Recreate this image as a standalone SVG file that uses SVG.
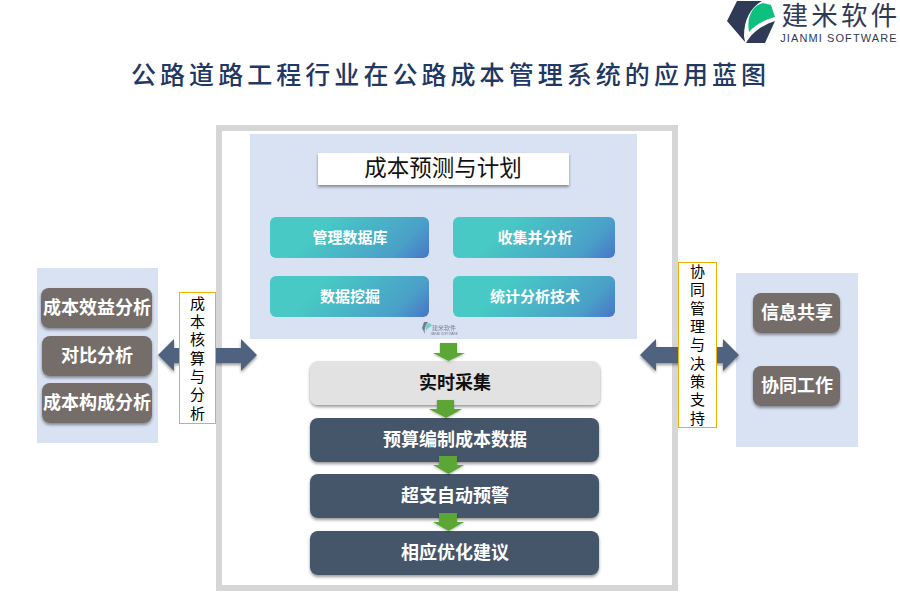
<svg xmlns="http://www.w3.org/2000/svg" width="900" height="600" viewBox="0 0 900 600">
<style>
text{font-family:"Noto Sans CJK SC","Noto Sans",sans-serif;text-anchor:middle}
.panel{fill:#d9e2f3}
.teal{fill:url(#tg)}
.tt{font-size:15px;font-weight:700;fill:#fff}
.grey{fill:#746d6b;filter:url(#sh)}
.gt{font-size:18px;font-weight:700;fill:#fff}
.dark{fill:#44546a;filter:url(#sh)}
.dt{font-size:18px;font-weight:700;fill:#fff}
.side{fill:#fff;stroke:#f0b400;stroke-width:1}
.st{font-size:15px;fill:#000;writing-mode:vertical-rl;letter-spacing:3.350px}
.green{fill:#5ca636;filter:url(#sh2)}
.blue{fill:#50627f;filter:url(#sh)}
</style>
<defs>
<linearGradient id="tg" x1="0" y1="0" x2="1.18" y2="0.3"><stop offset="0.3" stop-color="#48c9c5"/><stop offset="0.8" stop-color="#4aa0c8"/><stop offset="1" stop-color="#4874c9"/></linearGradient>
<filter id="sh" x="-20%" y="-20%" width="140%" height="150%"><feDropShadow dx="0" dy="2" stdDeviation="1.500" flood-color="#000" flood-opacity="0.4"/></filter>
<filter id="sh2" x="-20%" y="-20%" width="140%" height="150%"><feDropShadow dx="0" dy="1" stdDeviation="1" flood-color="#000" flood-opacity="0.3"/></filter>
</defs>
<rect width="900" height="600" fill="#fff"/>
<g id="logo">
<path d="M737 1H762C750 8 744 20 744 36L745 42L727 21Z" fill="#2f3a57"/>
<path d="M749 32C746 15 754 5 763 3L771 5L775 17C764 20 755 25 749 32Z" fill="#0ec07f"/>
<path d="M775 21L765 43H746C752 32 763 25 775 21Z" fill="#2f3a57"/>
<text x="841" y="25" style="font-size:26.500px;fill:#2f3a57;letter-spacing:3.300px">建米软件</text>
<text x="839" y="42" style="font-size:11px;fill:#2f3a57;letter-spacing:1.100px;font-family:'Liberation Sans',sans-serif">JIANMI SOFTWARE</text>
</g>
<text id="title" x="131" y="84" style="text-anchor:start;font-size:25px;font-weight:500;fill:#1f3864;letter-spacing:4.050px">公路道路工程行业在公路成本管理系统的应用蓝图</text>
<rect id="frame" x="219" y="128" width="456" height="460" fill="#fff" stroke="#d6d6d6" stroke-width="6"/>
<g id="plan"><rect class="panel" x="250" y="134" width="387" height="205"/></g>
<g id="n-plan-title"><rect x="318" y="153" width="251" height="32" fill="#fff" filter="url(#sh)"/><text x="443" y="176" style="font-size:22.500px;fill:#111">成本预测与计划</text></g>
<g id="n1"><rect class="teal" x="270" y="217" width="159" height="41" rx="6"/><text class="tt" x="350" y="243">管理数据库</text></g>
<g id="n2"><rect class="teal" x="453" y="217" width="162" height="41" rx="6"/><text class="tt" x="535" y="243">收集并分析</text></g>
<g id="n3"><rect class="teal" x="270" y="276" width="159" height="41" rx="6"/><text class="tt" x="350" y="302">数据挖掘</text></g>
<g id="n4"><rect class="teal" x="453" y="276" width="162" height="41" rx="6"/><text class="tt" x="535" y="302">统计分析技术</text></g>
<g id="mini-logo" opacity="0.6">
<path d="M424 322H428C425 326 424 330 425 334L422 328Z" fill="#2f3a57"/>
<path d="M426 331C425 326 427 323 430 323L432 326C429 327 427 329 426 331Z" fill="#3cc0a0"/>
<text x="444" y="330" style="font-size:6px;fill:#2f3a57">建米软件</text>
<text x="444" y="334.500" style="font-size:3px;fill:#2f3a57;font-family:'Liberation Sans',sans-serif">JIANMI SOFTWARE</text>
</g>
<g id="left"><rect class="panel" x="37" y="268" width="121" height="175"/></g>
<g id="l1"><rect class="grey" x="41" y="288" width="111" height="40" rx="8"/><text class="gt" x="97" y="314">成本效益分析</text></g>
<g id="l2"><rect class="grey" x="42" y="336" width="110" height="40" rx="8"/><text class="gt" x="97" y="362">对比分析</text></g>
<g id="l3"><rect class="grey" x="42" y="383" width="110" height="40" rx="8"/><text class="gt" x="97" y="409">成本构成分析</text></g>
<g id="right"><rect class="panel" x="736" y="273" width="122" height="174"/></g>
<g id="r1"><rect class="grey" x="753" y="293" width="87" height="40" rx="8"/><text class="gt" x="797" y="319">信息共享</text></g>
<g id="r2"><rect class="grey" x="753" y="366" width="87" height="40" rx="8"/><text class="gt" x="797" y="392">协同工作</text></g>
<g id="s1"><rect x="310" y="361" width="290" height="44" rx="8" fill="#e2e2e2" filter="url(#sh)"/><text x="455" y="389" style="font-size:18px;font-weight:700;fill:#111">实时采集</text></g>
<g id="s2"><rect class="dark" x="310" y="418" width="289" height="44" rx="8"/><text class="dt" x="455" y="446">预算编制成本数据</text></g>
<g id="s3"><rect class="dark" x="310" y="474" width="289" height="44" rx="8"/><text class="dt" x="455" y="502">超支自动预警</text></g>
<g id="s4"><rect class="dark" x="310" y="531" width="289" height="44" rx="8"/><text class="dt" x="455" y="559">相应优化建议</text></g>
<g id="connectors">
<path class="blue" d="M158 355L174 339V348H241V339L257 355L241 371V363H174V371Z"/>
<path class="blue" d="M640 355L656 339V347H723V339L739 355L723 371V363H656V371Z"/>
<path class="green" d="M440 343H457V353H465L448.500 361L433 353H440Z"/>
<path class="green" d="M437 400H454V409H462L446 418L429 409H437Z"/>
<path class="green" d="M439 456H457V465H464L448.500 474L433 465H439Z"/>
<path class="green" d="M439 513H457V522H464L448.500 531L433 522H439Z"/>
</g>
<g id="left-label"><rect class="side" x="179.500" y="292.500" width="36" height="131"/>
<text class="st" x="197.500" y="359.700">成本核算与分析</text></g>
<g id="right-label"><rect class="side" x="678.500" y="262.500" width="38" height="165"/>
<text class="st" x="697.500" y="346.200">协同管理与决策支持</text></g>
</svg>
